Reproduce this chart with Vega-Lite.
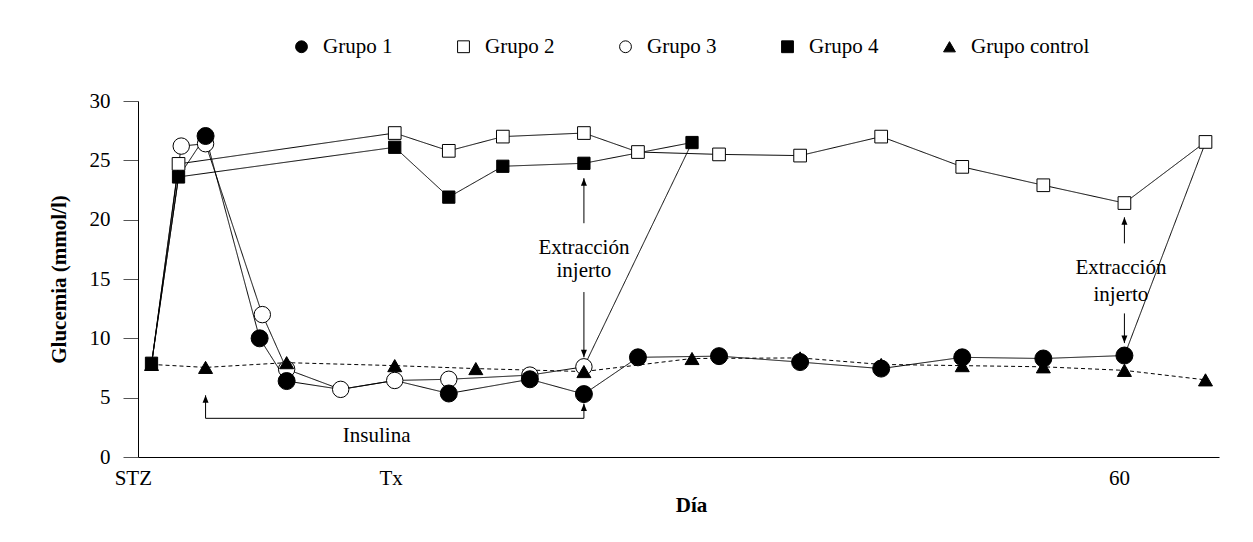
{
  "$schema": "https://vega.github.io/schema/vega-lite/v6.json",
  "width": 1081,
  "height": 356,
  "autosize": {"type": "none"},
  "padding": {"left": 138, "top": 101, "right": 34, "bottom": 85},
  "background": "white",
  "config": {
    "view": {"stroke": null},
    "font": "Liberation Serif",
    "text": {"font": "Liberation Serif"}
  },
  "datasets": {
    "series": [
      {"grupo": "Grupo 3", "dia": 0, "glucemia": 7.8},
      {"grupo": "Grupo 3", "dia": 1.1, "glucemia": 26.2},
      {"grupo": "Grupo 3", "dia": 2, "glucemia": 26.4},
      {"grupo": "Grupo 3", "dia": 4.1, "glucemia": 12.0},
      {"grupo": "Grupo 3", "dia": 5, "glucemia": 7.4},
      {"grupo": "Grupo 3", "dia": 7, "glucemia": 5.7},
      {"grupo": "Grupo 3", "dia": 9, "glucemia": 6.45},
      {"grupo": "Grupo 3", "dia": 11, "glucemia": 6.55},
      {"grupo": "Grupo 3", "dia": 14, "glucemia": 6.9},
      {"grupo": "Grupo 3", "dia": 16, "glucemia": 7.6},
      {"grupo": "Grupo 3", "dia": 20, "glucemia": 26.5},
      {"grupo": "Grupo control", "dia": 0, "glucemia": 7.8},
      {"grupo": "Grupo control", "dia": 2, "glucemia": 7.55},
      {"grupo": "Grupo control", "dia": 5, "glucemia": 7.95},
      {"grupo": "Grupo control", "dia": 9, "glucemia": 7.7},
      {"grupo": "Grupo control", "dia": 12, "glucemia": 7.45},
      {"grupo": "Grupo control", "dia": 16, "glucemia": 7.2},
      {"grupo": "Grupo control", "dia": 20, "glucemia": 8.3},
      {"grupo": "Grupo control", "dia": 24, "glucemia": 8.35},
      {"grupo": "Grupo control", "dia": 27, "glucemia": 7.8},
      {"grupo": "Grupo control", "dia": 30, "glucemia": 7.7},
      {"grupo": "Grupo control", "dia": 33, "glucemia": 7.6},
      {"grupo": "Grupo control", "dia": 36, "glucemia": 7.3},
      {"grupo": "Grupo control", "dia": 39, "glucemia": 6.5},
      {"grupo": "Grupo 1", "dia": 0, "glucemia": 7.8},
      {"grupo": "Grupo 1", "dia": 1, "glucemia": 23.6},
      {"grupo": "Grupo 1", "dia": 2, "glucemia": 27.05},
      {"grupo": "Grupo 1", "dia": 4, "glucemia": 10.0},
      {"grupo": "Grupo 1", "dia": 5, "glucemia": 6.4},
      {"grupo": "Grupo 1", "dia": 7, "glucemia": 5.7},
      {"grupo": "Grupo 1", "dia": 9, "glucemia": 6.45},
      {"grupo": "Grupo 1", "dia": 11, "glucemia": 5.35},
      {"grupo": "Grupo 1", "dia": 14, "glucemia": 6.55},
      {"grupo": "Grupo 1", "dia": 16, "glucemia": 5.3},
      {"grupo": "Grupo 1", "dia": 18, "glucemia": 8.4},
      {"grupo": "Grupo 1", "dia": 21, "glucemia": 8.5},
      {"grupo": "Grupo 1", "dia": 24, "glucemia": 8.0},
      {"grupo": "Grupo 1", "dia": 27, "glucemia": 7.45},
      {"grupo": "Grupo 1", "dia": 30, "glucemia": 8.4},
      {"grupo": "Grupo 1", "dia": 33, "glucemia": 8.3},
      {"grupo": "Grupo 1", "dia": 36, "glucemia": 8.55},
      {"grupo": "Grupo 1", "dia": 39, "glucemia": 26.5},
      {"grupo": "Grupo 2", "dia": 0, "glucemia": 7.8},
      {"grupo": "Grupo 2", "dia": 1, "glucemia": 24.7},
      {"grupo": "Grupo 2", "dia": 9, "glucemia": 27.3},
      {"grupo": "Grupo 2", "dia": 11, "glucemia": 25.8},
      {"grupo": "Grupo 2", "dia": 13, "glucemia": 27.0},
      {"grupo": "Grupo 2", "dia": 16, "glucemia": 27.3},
      {"grupo": "Grupo 2", "dia": 18, "glucemia": 25.7},
      {"grupo": "Grupo 2", "dia": 21, "glucemia": 25.5},
      {"grupo": "Grupo 2", "dia": 24, "glucemia": 25.4},
      {"grupo": "Grupo 2", "dia": 27, "glucemia": 27.0},
      {"grupo": "Grupo 2", "dia": 30, "glucemia": 24.45},
      {"grupo": "Grupo 2", "dia": 33, "glucemia": 22.9},
      {"grupo": "Grupo 2", "dia": 36, "glucemia": 21.4},
      {"grupo": "Grupo 2", "dia": 39, "glucemia": 26.55},
      {"grupo": "Grupo 4", "dia": 0, "glucemia": 7.9},
      {"grupo": "Grupo 4", "dia": 1, "glucemia": 23.6},
      {"grupo": "Grupo 4", "dia": 9, "glucemia": 26.1},
      {"grupo": "Grupo 4", "dia": 11, "glucemia": 21.9},
      {"grupo": "Grupo 4", "dia": 13, "glucemia": 24.5},
      {"grupo": "Grupo 4", "dia": 16, "glucemia": 24.75},
      {"grupo": "Grupo 4", "dia": 20, "glucemia": 26.5}
    ],
    "segments": [
      {"dia": 2, "dia2": 2, "glucemia": 3.26, "glucemia2": 5.2},
      {"dia": 16, "dia2": 16, "glucemia": 3.26, "glucemia2": 4.5},
      {"dia": 2, "dia2": 16, "glucemia": 3.26, "glucemia2": 3.26},
      {"dia": 16, "dia2": 16, "glucemia": 19.7, "glucemia2": 23.5},
      {"dia": 16, "dia2": 16, "glucemia": 13.9, "glucemia2": 8.4},
      {"dia": 36, "dia2": 36, "glucemia": 18.0, "glucemia2": 20.2},
      {"dia": 36, "dia2": 36, "glucemia": 12.1, "glucemia2": 9.6}
    ],
    "headsUp": [
      {"dia": 2, "glucemia": 5.2},
      {"dia": 16, "glucemia": 4.5},
      {"dia": 16, "glucemia": 23.5},
      {"dia": 36, "glucemia": 20.2}
    ],
    "headsDown": [
      {"dia": 16, "glucemia": 8.4},
      {"dia": 36, "glucemia": 9.6}
    ],
    "notes": [
      {"dia": 8.33, "glucemia": 1.77, "texto": "Insulina"},
      {"dia": 16, "glucemia": 17.6, "texto": "Extracción"},
      {"dia": 16, "glucemia": 15.67, "texto": "injerto"},
      {"dia": 35.87, "glucemia": 15.9, "texto": "Extracción"},
      {"dia": 35.87, "glucemia": 13.65, "texto": "injerto"}
    ]
  },
  "encoding": {
    "x": {
      "field": "dia",
      "type": "quantitative",
      "scale": {"domain": [-0.5, 39.5], "nice": false, "zero": false},
      "axis": {
        "title": "Día",
        "titleFont": "Liberation Serif",
        "titleFontSize": 21,
        "titleFontWeight": "bold",
        "titleColor": "black",
        "titlePadding": 6,
        "titleX": 553,
        "values": [0, 8.85, 35.8],
        "labelExpr": "datum.value == 0 ? 'STZ' : (datum.value < 20 ? 'Tx' : '60')",
        "labelAlign": {"condition": {"test": "datum.value == 0", "value": "right"}, "value": "center"},
        "labelFont": "Liberation Serif",
        "labelFontSize": 21,
        "labelColor": "black",
        "labelPadding": 10,
        "labelFlush": false,
        "labelOverlap": false,
        "ticks": false,
        "grid": false,
        "domainColor": "black",
        "domainWidth": 1
      }
    },
    "y": {
      "field": "glucemia",
      "type": "quantitative",
      "scale": {"domain": [0, 30], "nice": false},
      "axis": {
        "title": "Glucemia (mmol/l)",
        "titleFont": "Liberation Serif",
        "titleFontSize": 21,
        "titleFontWeight": "bold",
        "titleColor": "black",
        "titlePadding": 20,
        "values": [0, 5, 10, 15, 20, 25, 30],
        "labelFont": "Liberation Serif",
        "labelFontSize": 21,
        "labelColor": "black",
        "labelPadding": 13,
        "labelFlush": false,
        "tickSize": 15,
        "tickColor": "#555555",
        "grid": false,
        "domainColor": "black",
        "domainWidth": 1
      }
    }
  },
  "layer": [
    {
      "data": {"name": "series"},
      "mark": {"type": "line", "stroke": "black", "strokeWidth": 1},
      "encoding": {
        "detail": {"field": "grupo"},
        "strokeDash": {
          "field": "grupo",
          "type": "nominal",
          "scale": {
            "domain": ["Grupo control", "Grupo 1", "Grupo 2", "Grupo 3", "Grupo 4"],
            "range": [[4, 3], [1, 0], [1, 0], [1, 0], [1, 0]]
          },
          "legend": null
        }
      }
    },
    {
      "data": {"name": "segments"},
      "mark": {"type": "rule", "stroke": "black", "strokeWidth": 1},
      "encoding": {
        "x2": {"field": "dia2"},
        "y2": {"field": "glucemia2"}
      }
    },
    {
      "data": {"name": "headsUp"},
      "mark": {"type": "point", "filled": true, "fill": "black", "strokeWidth": 0, "opacity": 1, "size": 100, "shape": "M-0.6,1.5L0,0L0.6,1.5Z"}
    },
    {
      "data": {"name": "headsDown"},
      "mark": {"type": "point", "filled": true, "fill": "black", "strokeWidth": 0, "opacity": 1, "size": 100, "shape": "M-0.6,-1.5L0,0L0.6,-1.5Z"}
    },
    {
      "data": {"name": "series"},
      "transform": [
        {"filter": "!((datum.grupo == 'Grupo 1' && (datum.dia == 0 || datum.dia == 1 || datum.dia == 7 || datum.dia == 9 || datum.dia == 39)) || (datum.grupo == 'Grupo 3' && (datum.dia == 0 || datum.dia == 20)) || (datum.grupo == 'Grupo 2' && datum.dia == 0))"}
      ],
      "mark": {"type": "point", "filled": true, "opacity": 1, "strokeWidth": 1},
      "encoding": {
        "shape": {
          "field": "grupo",
          "type": "nominal",
          "scale": {
            "domain": ["Grupo 1", "Grupo 2", "Grupo 3", "Grupo 4", "Grupo control"],
            "range": ["circle", "square", "circle", "square", "triangle-up"]
          },
          "legend": {
            "title": null,
            "orient": "none",
            "direction": "horizontal",
            "legendX": 153,
            "legendY": -65,
            "columns": 5,
            "columnPadding": 60,
            "labelFont": "Liberation Serif",
            "labelFontSize": 21,
            "labelColor": "black",
            "labelOffset": 11,
            "symbolSize": 140,
            "symbolStrokeWidth": 1,
            "symbolStrokeColor": "black"
          }
        },
        "fill": {
          "field": "grupo",
          "type": "nominal",
          "scale": {
            "domain": ["Grupo 1", "Grupo 2", "Grupo 3", "Grupo 4", "Grupo control"],
            "range": ["black", "white", "white", "black", "black"]
          }
        },
        "stroke": {
          "field": "grupo",
          "type": "nominal",
          "scale": {
            "domain": ["Grupo 1", "Grupo 2", "Grupo 3", "Grupo 4", "Grupo control"],
            "range": ["black", "black", "black", "black", "black"]
          }
        },
        "size": {
          "field": "grupo",
          "type": "nominal",
          "scale": {
            "type": "ordinal",
            "domain": ["Grupo control", "Grupo 4", "Grupo 3", "Grupo 2", "Grupo 1"],
            "range": [196, 150, 270, 161, 289]
          },
          "legend": null
        }
      }
    },
    {
      "data": {"name": "notes"},
      "mark": {"type": "text", "font": "Liberation Serif", "fontSize": 21, "color": "black", "align": "center", "baseline": "middle"},
      "encoding": {
        "text": {"field": "texto"}
      }
    }
  ]
}
